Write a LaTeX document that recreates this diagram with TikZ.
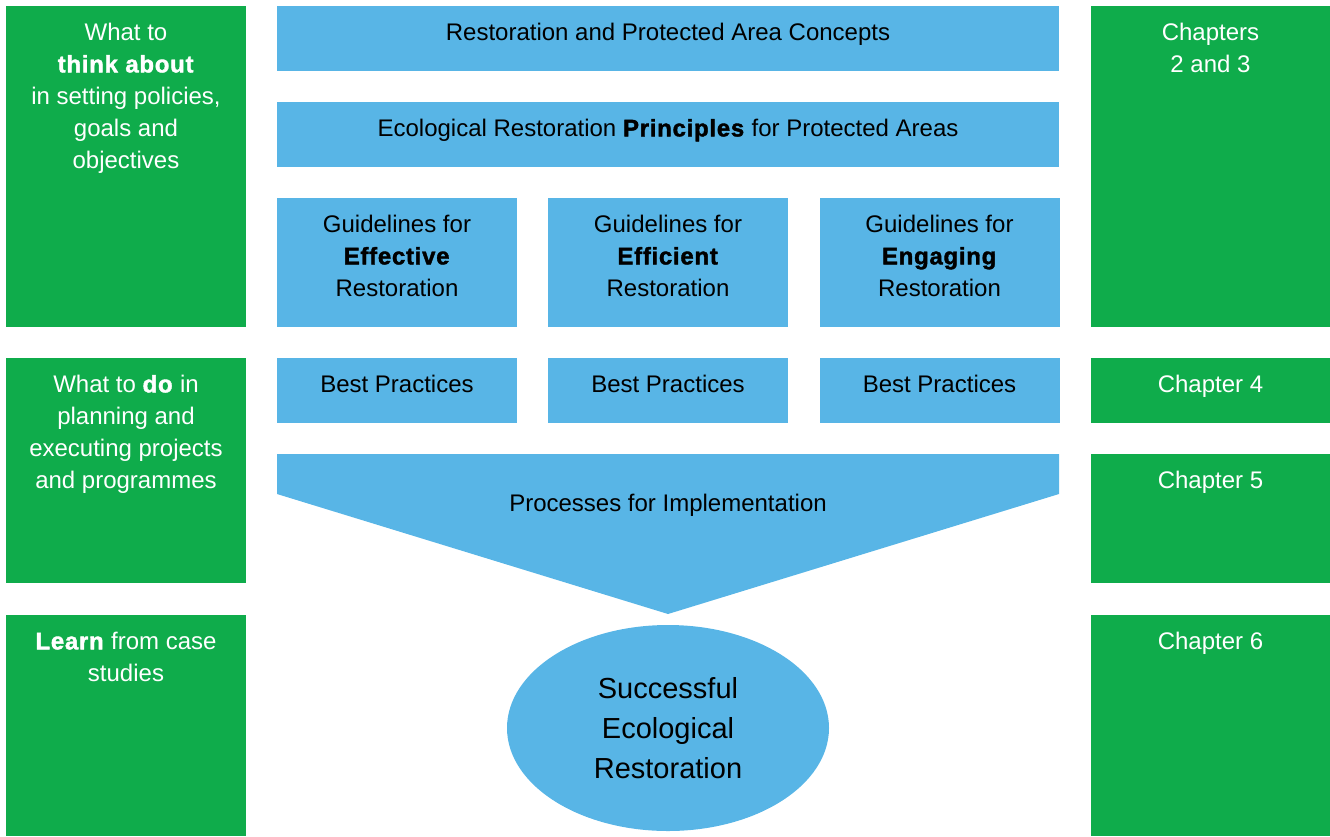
\documentclass[tikz,border=0pt]{standalone}
\usepackage{fontspec}
\setmainfont{Liberation Sans}[BoldFeatures={FakeBold=1.6, LetterSpace=3}]
\usetikzlibrary{shapes.geometric}
\definecolor{ecogreen}{RGB}{15,172,75}
\definecolor{ecoblue}{RGB}{88,181,230}
\tikzset{
  gbox/.style={fill=ecogreen, inner sep=0, minimum width=240},
  bbox/.style={fill=ecoblue, inner sep=0, minimum width=240},
  gtxt/.style={anchor=north, inner sep=0, yshift=-17pt, align=center, text=white, font=\fontsize{24}{32}\selectfont},
  btxt/.style={gtxt, text=black},
}
\begin{document}
\begin{tikzpicture}[x=1pt, y=-1pt]
 \useasboundingbox (0,0) rectangle (1330,836);
 % left column
 \node[gbox, minimum height=321, label={[gtxt]north:{What to\\ \textbf{think about}\\ in setting policies,\\ goals and\\ objectives}}] (think) at (126,166.5) {};
 \node[gbox, minimum height=225, label={[gtxt]north:{What to \textbf{do} in\\ planning and\\ executing projects\\ and programmes}}] (do) at (126,470.5) {};
 \node[gbox, minimum height=221, label={[gtxt]north:{\textbf{Learn} from case\\ studies}}] (learn) at (126,725.5) {};
 % right column
 \node[gbox, minimum height=321, label={[gtxt]north:{Chapters\\ 2 and 3}}] (ch23) at (1210.5,166.5) {};
 \node[gbox, minimum height=65, label={[gtxt]north:Chapter 4}] (ch4) at (1210.5,390.5) {};
 \node[gbox, minimum height=129, label={[gtxt]north:Chapter 5}] (ch5) at (1210.5,518.5) {};
 \node[gbox, minimum height=221, label={[gtxt]north:Chapter 6}] (ch6) at (1210.5,725.5) {};
 % middle
 \node[bbox, minimum width=782, minimum height=65, label={[btxt]north:Restoration and Protected Area Concepts}] (concepts) at (668,38.5) {};
 \node[bbox, minimum width=782, minimum height=65, label={[btxt]north:Ecological Restoration \textbf{Principles} for Protected Areas}] (principles) at (668,134.5) {};
 \foreach \x/\w [count=\i] in {397/Effective, 668/Efficient, 939.5/Engaging} {
   \node[bbox, minimum height=129, label={[btxt]north:{Guidelines for\\ \textbf{\w}\\ Restoration}}] (guide\i) at (\x,262.5) {};
   \node[bbox, minimum height=65, label={[btxt]north:Best Practices}] (best\i) at (\x,390.5) {};
 }
 \fill[ecoblue] (277,454) -- (1059,454) -- (1059,494) -- (668,614) -- (277,494) -- cycle;
 \node[font=\fontsize{24}{32}\selectfont] (processes) at (668,505) {Processes for Implementation};
 \node[ellipse, fill=ecoblue, inner sep=0, minimum width=322, minimum height=206, align=center, font=\fontsize{29}{40}\selectfont] (success) at (668,728) {Successful\\ Ecological\\ Restoration};
\end{tikzpicture}
\end{document}
